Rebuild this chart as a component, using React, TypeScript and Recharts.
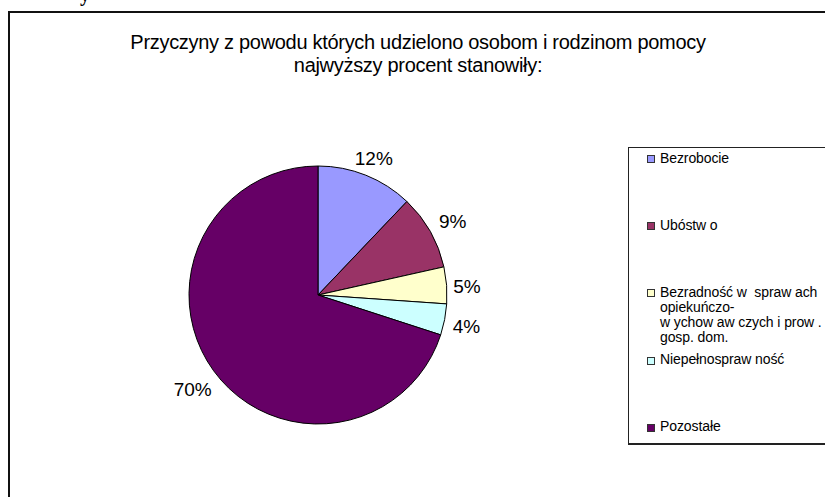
import * as React from "react"
import { PieChart, Pie, Cell, Legend } from "recharts"

const categories = [
  "Bezrobocie",
  "Ubóstw o",
  "Bezradność w  spraw ach opiekuńczo- w ychow aw czych i prow . gosp. dom.",
  "Niepełnospraw ność",
  "Pozostałe",
]
const legendLines = [
  ["Bezrobocie"],
  ["Ubóstw o"],
  ["Bezradność w  spraw ach", "opiekuńczo-", "w ychow aw czych i prow .", "gosp. dom."],
  ["Niepełnospraw ność"],
  ["Pozostałe"],
]
const values = [12.1, 9.4, 4.6, 3.9, 70.0]
const colors = ["#9999FF", "#993366", "#FFFFCC", "#CCFFFF", "#660066"]

const titleLines = [
  "Przyczyny z powodu których udzielono osobom i rodzinom pomocy",
  "najwyższy procent stanowiły:",
]

const data = categories.map((name, i) => ({ name, value: values[i] }))
const total = values.reduce((a, b) => a + b, 0)

const FONT = "'Liberation Sans', Arial, sans-serif"
const RAD = Math.PI / 180

const renderLabel = (props: any) => {
  const { cx, cy, midAngle, outerRadius, value } = props
  const cos = Math.cos(-midAngle * RAD)
  const sin = Math.sin(-midAngle * RAD)
  // excel-ish: labels sit a bit further out on the diagonals
  const r = outerRadius + 19 + 9 * Math.abs(cos) * Math.abs(sin) * 2 * Math.abs(cos)
  const x = cx + r * cos
  const y = cy + r * sin + 3
  return (
    <text x={x} y={y} fill="#000" textAnchor="middle" dominantBaseline="central"
      style={{ fontFamily: FONT, fontSize: 19 }}>
      {`${Math.round((value / total) * 100)}%`}
    </text>
  )
}

const renderLegend = () => (
  <div style={{ position: "relative", width: 220, height: 296, fontFamily: FONT, fontSize: 14, color: "#000" }}>
    {legendLines.map((lines, i) => (
      <div key={i} style={{ position: "absolute", left: 19, top: 3.5 + i * 67.2, display: "flex" }}>
        <div style={{ width: 6, height: 6, marginTop: 4.5, background: colors[i], border: "1px solid #333", flex: "none" }} />
        <div style={{ marginLeft: 5, lineHeight: "15px", letterSpacing: -0.1 }}>
          {lines.map((l, j) => <div key={j} style={{ whiteSpace: "pre" }}>{l}</div>)}
        </div>
      </div>
    ))}
  </div>
)

export default function App() {
  return (
    <div style={{ position: "absolute", left: 0, top: 0, width: 825, height: 497, overflow: "hidden", background: "#fff" }}>
      <style>{"body{margin:0}"}</style>
      <div style={{ position: "absolute", left: 80, top: -17, fontFamily: "'Liberation Serif', serif", fontWeight: "bold", fontSize: 20 }}>y</div>
      <div style={{ position: "absolute", left: 8, top: 11, width: 900, height: 600, borderTop: "2px solid #111", borderLeft: "2px solid #111" }} />
      <div style={{ position: "absolute", left: 0, top: 31, width: 836, textAlign: "center", fontFamily: FONT, fontSize: 20, lineHeight: "23px", letterSpacing: -0.3, color: "#000" }}>
        {titleLines.map((t, i) => <div key={i}>{t}</div>)}
      </div>
      <div style={{ position: "absolute", left: 628, top: 147, width: 300, height: 295, borderTop: "1px solid #222", borderLeft: "1px solid #222", borderBottom: "2px solid #222" }} />
      <PieChart width={825} height={497} margin={{ top: 0, right: 0, bottom: 0, left: 0 }} style={{ position: "absolute", left: 0, top: 0 }}>
        <Pie
          data={data}
          dataKey="value"
          nameKey="name"
          cx={318}
          cy={295}
          outerRadius={129}
          startAngle={90}
          endAngle={-270}
          stroke="#000"
          strokeWidth={1}
          label={renderLabel}
          labelLine={false}
          isAnimationActive={false}
        >
          {data.map((d, i) => <Cell key={d.name} fill={colors[i]} />)}
        </Pie>
        <Legend
          layout="vertical"
          align="right"
          verticalAlign="top"
          content={renderLegend}
          wrapperStyle={{ position: "absolute", left: 628, top: 147, width: 220, height: 296 }}
        />
      </PieChart>
    </div>
  )
}
